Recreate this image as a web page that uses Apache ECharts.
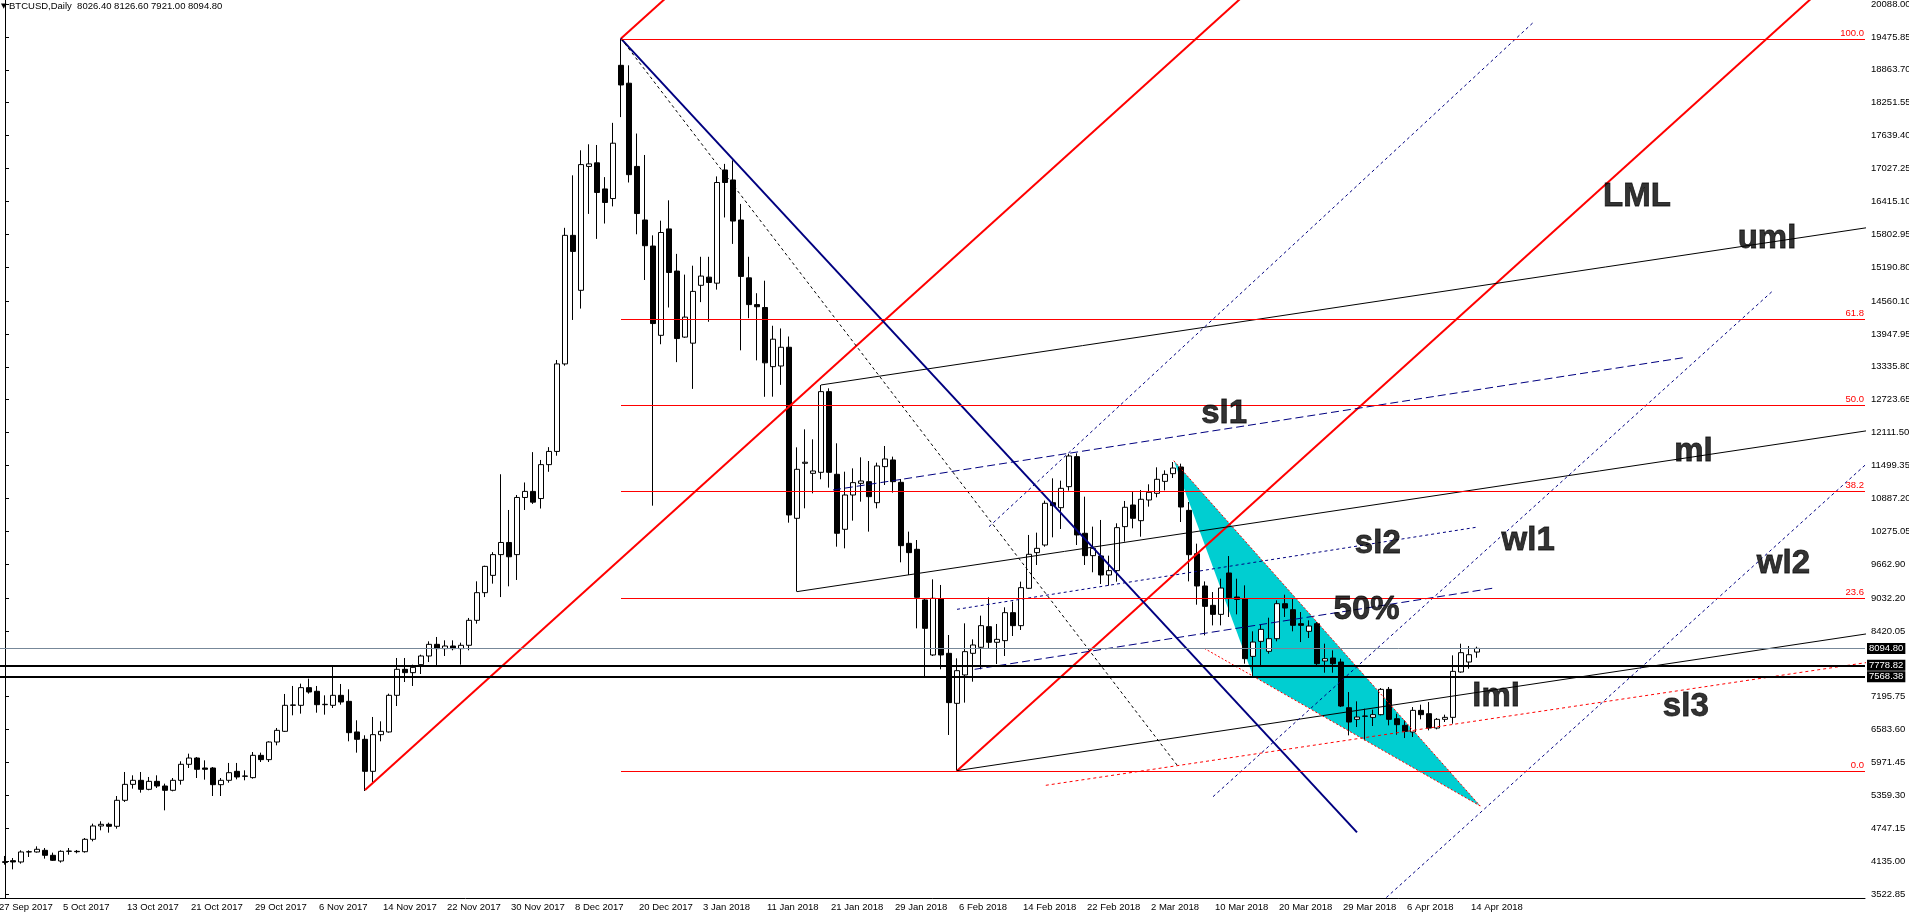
<!DOCTYPE html>
<html>
<head>
<meta charset="utf-8">
<title>BTCUSD,Daily</title>
<script src="https://cdn.jsdelivr.net/npm/echarts@6/dist/echarts.min.js"></script>
<style>
html, body { margin: 0; padding: 0; background: #fff; }
#chart { width: 1909px; height: 921px; }
</style>
</head>
<body>
<div id="chart"></div>
<script>
// BTCUSD daily, MT4 style, with the drawn analysis objects

// bars (index 0 = 28 Sep 2017)
var opens = [4110,4143,4119,4305,4305,4336,4243,4137,4317,4317,4310,4541,4789,4820,4783,5267,5564,5639,5471,5620,
  5533,5453,5639,5937,6054,5868,5868,5558,5639,5806,5713,5689,6104,6024,6352,6551,7035,7035,7364,7296,
  7047,7035,7221,7109,6539,6402,5806,6489,6539,7221,7705,7643,7792,7953,8170,8090,8139,8090,8152,8617,
  9132,9454,9840,10066,9840,10904,11017,10884,11515,11761,13390,15783,14760,17066,17133,16647,16468,18948,18615,17066,
  16069,15584,13922,15903,15118,13889,13776,14853,15005,14893,17000,16814,16069,14992,14494,14440,13339,13351,13700,10516,
  11540,11353,11372,12874,11335,10311,10950,11167,11198,10807,11478,11602,11186,10050,9939,8996,7972,9014,8003,7072,
  7600,8003,8115,8499,8208,8239,8760,8518,9213,9877,10019,10807,10714,11105,11664,10237,9821,9815,9461,9542,
  10361,10764,10472,10857,10981,11204,11347,11471,10664,9857,9256,8896,8728,9498,9051,9020,7946,8226,8040,8275,
  8927,8815,8555,8412,8555,7860,7915,7841,6991,6774,6830,6811,6861,7332,6786,6662,6538,6941,6879,6612,
  6774,6811,7655,7841,8026.40];
var highs = [4231,4193,4336,4336,4410,4379,4293,4336,4379,4342,4565,4832,4876,4851,5347,5794,5732,5794,5701,5732,
  5577,5682,5993,6135,6073,6011,5887,5682,5962,5962,5825,6166,6154,6365,6613,7246,7395,7438,7531,7395,
  7221,7748,7432,7333,6756,6477,6818,6737,7252,7916,7916,7792,7978,8226,8307,8245,8245,8201,8661,9343,
  9634,9886,11336,10671,10950,11183,11748,11602,11841,13463,15923,16900,17366,17478,17465,16867,17877,19446,18948,17678,
  17279,15783,16056,16435,15438,15052,15218,15384,15384,16880,17113,17179,16368,15384,14706,14939,14100,14050,13900,11837,
  12172,11986,12998,12936,11912,11384,11446,11651,11583,11552,11862,11664,11248,10268,10112,9027,9380,9275,8344,7910,
  8561,8263,8704,9045,8549,8859,8965,9337,10206,10249,10845,11260,11217,11713,11726,10919,10361,10485,9821,10423,
  10839,11012,11043,11149,11465,11409,11564,11533,10819,10044,9342,9144,9392,9814,9392,9268,8412,8536,8666,8989,
  9094,9020,8772,8617,8586,8182,8058,7903,7282,7109,6972,6954,7357,7376,6879,6755,7003,7047,7096,6799,
  6861,7965,8182,8139,8126.60];
var lows = [4069,3982,4088,4212,4293,4181,4137,4107,4255,4280,4293,4503,4708,4665,4739,5236,5484,5409,5453,5496,
  5080,5434,5558,5868,5682,5651,5347,5347,5595,5657,5639,5670,5980,5980,6290,6539,6849,6880,7252,6898,
  6861,6985,7047,6365,6154,5440,5608,6365,6526,7022,7469,7395,7618,7841,7767,7953,8059,7792,8059,8555,
  9050,9300,9050,9250,9368,10671,10784,10698,11382,11681,13357,14208,14420,16182,15717,16003,16322,17984,16767,15803,
  14952,10751,13756,14440,13423,13875,12925,14540,14174,14773,16116,15624,13643,14241,13456,12778,12780,13000,10435,9151,
  10702,10981,11242,11087,9988,9957,10472,10826,10268,10702,11136,10994,9697,9461,8468,7550,7953,7705,6483,5819,
  7085,7475,7705,8096,7804,7953,8325,8437,9200,9647,9988,10162,10317,11031,10019,9647,9511,9293,9262,9337,
  10081,10330,10174,10733,10907,11036,11266,10447,9342,8908,8337,8523,8523,8679,8728,7810,7562,7767,7996,8226,
  8679,8412,8213,8288,7779,7642,7642,7003,6476,6631,6383,6650,6848,6662,6488,6426,6445,6774,6569,6588,
  6724,6693,7642,7717,7921.00];
var closes = [4125,4119,4305,4310,4355,4243,4150,4317,4322,4310,4541,4789,4820,4783,5267,5564,5639,5471,5620,5533,
  5453,5639,5937,6054,5844,5844,5558,5639,5781,5701,5720,6104,6024,6352,6569,7035,7042,7364,7283,7047,
  7054,7221,7097,6526,6402,5806,6489,6551,7221,7705,7643,7742,7953,8170,8090,8139,8090,8152,8617,9132,
  9621,9840,10066,9800,10904,11017,10817,11515,11761,13390,15783,15484,17100,17113,16581,16395,17498,18582,16913,16189,
  15590,14141,15836,15092,13862,14261,14740,15025,14906,16767,16767,16049,15019,14494,14454,13410,13850,13700,10578,11428,
  11560,11397,12874,11372,10237,10950,11180,11211,10919,11490,11620,11198,10007,9877,9045,8468,9027,7972,7085,7680,
  8034,8158,8518,8208,8263,8760,8518,9225,9846,9957,10795,10752,11074,11676,10206,9821,9957,9461,9542,10342,
  10721,10516,10870,11000,11242,11334,11452,10726,9839,9256,8877,8728,9218,9038,9007,7903,8213,8449,8275,8927,
  8846,8524,8524,8511,7810,7903,7810,7022,6724,6817,6836,6861,7332,6774,6675,6550,6941,6861,6612,6774,
  6811,7667,8015,7977,8094.80];

// calendar: first slot is 27 Sep (no bar), broker had no bars on these days
var firstDay = '2017-09-27';
var lastDay = '2018-04-15';
var missingDays = ['2017-12-09','2017-12-10','2017-12-16','2017-12-17','2017-12-23','2017-12-24','2017-12-25',
  '2017-12-30','2017-12-31','2018-01-01','2018-01-13','2018-01-14','2018-03-11','2018-03-18','2018-03-25'];
var futureSlots = 48;

var xTickLabels = ['27 Sep 2017','5 Oct 2017','13 Oct 2017','21 Oct 2017','29 Oct 2017','6 Nov 2017','14 Nov 2017',
  '22 Nov 2017','30 Nov 2017','8 Dec 2017','20 Dec 2017','3 Jan 2018','11 Jan 2018','21 Jan 2018','29 Jan 2018',
  '6 Feb 2018','14 Feb 2018','22 Feb 2018','2 Mar 2018','10 Mar 2018','20 Mar 2018','29 Mar 2018','6 Apr 2018','14 Apr 2018'];

var yTickLabels = ['3522.85','4135.00','4747.15','5359.30','5971.45','6583.60','7195.75','8420.05','9032.20',
  '9662.90','10275.05','10887.20','11499.35','12111.50','12723.65','13335.80','13947.95','14560.10','15190.80',
  '15802.95','16415.10','17027.25','17639.40','18251.55','18863.70','19475.85','20088.00'];

// horizontal lines: bid + two support levels
var bidLine = 8094.80;
var supportLines = [7778.82, 7568.38];

// fibonacci retracement drawn from the Dec top (bar 77)
var fibStart = 77;
var fibNames = ['0.0','23.6','38.2','50.0','61.8','100.0'];
var fibLevels = [5812, 9027, 11024, 12612, 14220, 19432];

// red parallel rays (bar, price) and their common slope in price per bar
var redAnchors = [[45, 5460], [77, 19446], [119, 5819]];
var redSlope = 134.6;

// andrews pitchfork: handle, upper, lower
var forkP1 = [99, 9151];
var forkP2 = [102, 12998];
var forkP3 = [119, 5819];

var navyTrend = [[77, 19446], [169, 4670]];
var blackDashTrend = [[77, 19446], [146.6, 5905]];
var sl1Line = [[103.5, 11043], [210.1, 13513]];
var midLine = [[121.2, 7705], [185.9, 9213]];
var sl2Line = [[119, 8822], [183.9, 10349]];
var steepLine = [[123, 10360], [191, 19741]];
var wl1Line = [[151, 5334], [221, 14753]];
var wl2Line = [[171, 3233], [233, 11572]];
var sl3Line = [[130.1, 5546], [234, 7860]];

var triangle = [[146.1, 11588], [156, 7581], [184.4, 5161]];
var triLowEdge = [[149.9, 8096], [184.4, 5161]];

var notes = [['LML', 204, 16500], ['uml', 220.25, 15724], ['ml', 211.06, 11760], ['wl1', 190.4, 10103],
  ['wl2', 222.3, 9675], ['sl3', 210.1, 7004], ['sl2', 171.6, 10047], ['50%', 170.2, 8809],
  ['lml', 186.4, 7199], ['sl1', 152.4, 12467]];

// ---------------------------------------------------------------
var MON = ['Jan','Feb','Mar','Apr','May','Jun','Jul','Aug','Sep','Oct','Nov','Dec'];
var categories = [];
var d = new Date(firstDay + 'T00:00:00Z');
var end = new Date(lastDay + 'T00:00:00Z');
while (d <= end) {
  var iso = d.toISOString().slice(0, 10);
  if (missingDays.indexOf(iso) < 0) {
    categories.push(d.getUTCDate() + ' ' + MON[d.getUTCMonth()] + ' ' + d.getUTCFullYear());
  }
  d.setUTCDate(d.getUTCDate() + 1);
}
for (var f = 1; f <= futureSlots; f++) categories.push('#' + f);

var candles = [['-', '-', '-', '-']];
for (var k = 0; k < opens.length; k++) candles.push([opens[k], closes[k], lows[k], highs[k]]);

var FONT = 'Liberation Sans';
var last = opens.length - 1;
var titleText = '{tri|\u25BC} BTCUSD,Daily  ' + [opens[last], highs[last], lows[last], closes[last]]
  .map(function (v) { return v.toFixed(2); }).join(' ');

function ray(p, slope, toX) {
  return [p, [toX, p[1] + slope * (toX - p[0])]];
}
function seg(pts, color, width, type, z) {
  return {
    type: 'line', xAxisIndex: 1, yAxisIndex: 0, data: pts, symbol: 'none',
    silent: true, animation: false, clip: true, z: z || 4,
    lineStyle: { color: color, width: width, type: type || 'solid' }
  };
}

var forkMid = [(forkP2[0] + forkP3[0]) / 2, (forkP2[1] + forkP3[1]) / 2];
var forkSlope = (forkMid[1] - forkP1[1]) / (forkMid[0] - forkP1[0]);

var series = [];

// cyan triangle under the bars
series.push({
  type: 'custom', xAxisIndex: 1, yAxisIndex: 0, z: 1, silent: true, animation: false,
  data: [triangle[0]],
  renderItem: function (params, api) {
    return {
      type: 'polygon',
      shape: { points: triangle.map(function (p) { return api.coord(p); }) },
      style: { fill: '#00CED1' }
    };
  }
});

series.push({
  type: 'candlestick', xAxisIndex: 0, yAxisIndex: 0, data: candles, barWidth: 5, z: 2,
  silent: true, animation: false,
  itemStyle: { color: '#ffffff', color0: '#000000', borderColor: '#000000', borderColor0: '#000000', borderWidth: 1 },
  markLine: {
    silent: true, animation: false, symbol: ['none', 'none'],
    label: {
      show: true, position: 'end', distance: 2, color: '#fff', backgroundColor: '#000',
      padding: [1, 2, 0, 2], fontSize: 9.5, fontFamily: FONT,
      formatter: function (p) { return p.value.toFixed(2); }
    },
    data: [{ yAxis: bidLine, lineStyle: { color: '#778899', width: 1, type: 'solid' } }]
      .concat(supportLines.map(function (v) { return { yAxis: v, lineStyle: { color: '#000', width: 2, type: 'solid' } }; }))
  }
});

// fibonacci levels
series.push({
  type: 'line', xAxisIndex: 1, yAxisIndex: 0, data: [], z: 3, silent: true, animation: false,
  markLine: {
    silent: true, animation: false, symbol: ['none', 'none'],
    lineStyle: { color: '#ff0000', width: 1, type: 'solid' },
    label: { show: true, position: 'insideEndTop', distance: 1, color: '#ff0000', fontSize: 9.5, fontFamily: FONT, formatter: '{b}' },
    data: fibLevels.map(function (v, n) {
      return [{ coord: [fibStart, v], name: fibNames[n] }, { coord: [232.5, v] }];
    })
  }
});

// red channel
redAnchors.forEach(function (p) { series.push(seg(ray(p, redSlope, 240), '#ff0000', 2)); });
// pitchfork
series.push(seg(ray(forkP1, forkSlope, 240), '#000', 1));
series.push(seg(ray(forkP2, forkSlope, 240), '#000', 1));
series.push(seg(ray(forkP3, forkSlope, 240), '#000', 1));
// trend lines
series.push(seg(navyTrend, '#000080', 2));
series.push(seg(blackDashTrend, '#000', 1, [3, 3]));
series.push(seg(sl1Line, '#000080', 1, [8, 4]));
series.push(seg(midLine, '#000080', 1, [8, 4]));
series.push(seg(sl2Line, '#000080', 1, [3, 3]));
series.push(seg(steepLine, '#000080', 1, [3, 3]));
series.push(seg(wl1Line, '#000080', 1, [3, 3]));
series.push(seg(wl2Line, '#000080', 1, [3, 3]));
series.push(seg(sl3Line, '#ff0000', 1, [3, 3]));
series.push(seg(triLowEdge, '#ff0000', 1, [2, 2]));
series.push(seg([triangle[0], triangle[2]], '#ff0000', 1, [2, 2]));

// text labels
series.push({
  type: 'scatter', xAxisIndex: 1, yAxisIndex: 0, z: 6, silent: true, animation: false,
  symbolSize: 1, itemStyle: { color: 'rgba(0,0,0,0)' },
  data: notes.map(function (n) { return { name: n[0], value: [n[1], n[2]] }; }),
  label: { show: true, position: 'inside', formatter: '{b}', color: '#000', fontSize: 33, fontWeight: 'bold',
    fontFamily: FONT, textBorderColor: '#000', textBorderWidth: 0.8 }
});

var chart = echarts.init(document.getElementById('chart'), null, { renderer: 'canvas' });
chart.setOption({
  backgroundColor: '#ffffff',
  animation: false,
  title: {
    text: titleText, left: 1, top: 1, padding: 0,
    textStyle: { fontSize: 9.5, fontFamily: FONT, fontWeight: 'normal', color: '#000',
      rich: { tri: { fontSize: 7, fontFamily: 'DejaVu Sans', color: '#000' } } }
  },
  grid: { left: -7, right: 44, top: 0, bottom: 23, outerBoundsMode: 'none', containLabel: false },
  xAxis: [{
    type: 'category', data: categories, boundaryGap: true,
    axisLine: { lineStyle: { color: '#000', width: 1 } },
    axisTick: { alignWithLabel: true, length: 5, lineStyle: { color: '#000' },
      interval: function (i, v) { return xTickLabels.indexOf(v) >= 0; } },
    axisLabel: { color: '#000', fontSize: 9.5, fontFamily: FONT, align: 'left', margin: 4, padding: [0, 0, 0, 2],
      interval: function (i, v) { return xTickLabels.indexOf(v) >= 0; } },
    splitLine: { show: false }
  }, {
    type: 'value', min: -1.5, max: 232.5, show: false
  }],
  yAxis: [{
    type: 'value', position: 'right', min: 3448.4, max: 20163.8,
    axisLine: { show: true, lineStyle: { color: '#000', width: 1 } },
    axisTick: { show: true, inside: false, length: 4, lineStyle: { color: '#000' },
      customValues: yTickLabels.map(Number) },
    axisLabel: { color: '#000', fontSize: 9.5, fontFamily: FONT, margin: 6,
      customValues: yTickLabels.map(Number),
      formatter: function (v) {
        for (var n = 0; n < yTickLabels.length; n++) {
          if (Math.abs(Number(yTickLabels[n]) - v) < 0.01) return yTickLabels[n];
        }
        return '';
      } },
    splitLine: { show: false }
  }],
  series: series
});
</script>
</body>
</html>
